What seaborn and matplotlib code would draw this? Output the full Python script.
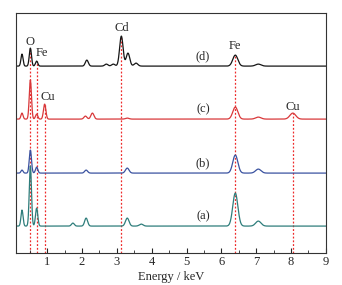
import matplotlib
matplotlib.use("Agg")
import matplotlib.pyplot as plt
from matplotlib.ticker import MultipleLocator
import seaborn as sns
import pandas as pd
import numpy as np

# spectra: peak positions (keV) and heights
samples = ["(a)", "(b)", "(c)", "(d)"]
offsets = [27, 80, 134, 187]
colors = ["#2e7d7b", "#3a52a0", "#d9383a", "#151515"]

peaks_a = [(0.28, 16), (0.52, 60), (0.70, 18), (1.74, 3), (2.12, 8), (3.30, 8), (3.70, 2), (6.40, 33), (7.06, 5)]
peaks_b = [(0.28, 3), (0.52, 23), (0.70, 6), (2.12, 3), (3.30, 5), (6.40, 18), (7.06, 4)]
peaks_c = [(0.28, 6), (0.52, 39), (0.70, 5), (0.93, 15), (2.10, 3), (2.30, 6), (3.30, 1), (6.40, 12), (7.06, 2), (8.05, 6)]
peaks_d = [(0.28, 12), (0.52, 18), (0.70, 5), (2.14, 6), (2.70, 2), (2.90, 2), (3.13, 30), (3.32, 13), (3.55, 3), (6.40, 11), (7.06, 2)]
all_peaks = [peaks_a, peaks_b, peaks_c, peaks_d]

# marked element lines: energy, label, sample index the line starts from
lines_e = [0.52, 0.70, 0.93, 3.13, 6.40, 8.05]
lines_from = [3, 3, 2, 3, 3, 2]
labels = ["O", "Fe", "Cu", "Cd", "Fe", "Cu"]
label_xy = [(0.52, 211), (0.86, 200), (1.02, 156), (3.13, 225), (6.40, 207), (8.05, 146)]

energy = np.linspace(0.11, 9.0, 1800)


def spectrum(peaks):
    y = np.zeros_like(energy)
    for e, h in peaks:
        s = 0.028 + 0.007 * e
        y += h * np.exp(-0.5 * ((energy - e) / s) ** 2)
    return y


rows = []
for name, off, pk in zip(samples, offsets, all_peaks):
    rows.append(pd.DataFrame({"energy": energy, "counts": off + spectrum(pk), "sample": name}))
df = pd.concat(rows, ignore_index=True)

sns.set_style("ticks")
plt.rcParams["font.family"] = ["Liberation Serif", "DejaVu Serif"]

fig = plt.figure(figsize=(3.42, 2.85), dpi=100)
ax = fig.add_axes([0.047, 0.112, 0.906, 0.842])

sns.lineplot(data=df, x="energy", y="counts", hue="sample", palette=dict(zip(samples, colors)),
             linewidth=0.9, legend=False, ax=ax)

for e, src in zip(lines_e, lines_from):
    top = offsets[src] + spectrum(all_peaks[src])[np.argmin(abs(energy - e))]
    ax.vlines(e, 0, top, colors="#ee2a2a", linestyles=(0, (1.5, 1.5)), linewidth=0.9, zorder=0)

for t, (x, y) in zip(labels, label_xy):
    ax.text(x, y, t, ha="center", va="center", fontsize=9)

for name, off in zip(samples, offsets):
    ax.text(5.47, off + 10, name, ha="center", va="center", fontsize=9)

ax.set_xlim(0.11, 9)
ax.set_ylim(0, 240)
ax.xaxis.set_major_locator(MultipleLocator(1))
ax.xaxis.set_minor_locator(MultipleLocator(0.5))
ax.tick_params(axis="x", which="both", direction="in", labelsize=9, pad=2)
ax.tick_params(axis="x", which="major", length=3.5)
ax.tick_params(axis="x", which="minor", length=2)
ax.set_yticks([])
ax.set_xlabel("Energy / keV", fontsize=9, labelpad=2)
ax.set_ylabel("")
for sp in ax.spines.values():
    sp.set_visible(True)
    sp.set_linewidth(0.8)
    sp.set_color("#333333")

fig.savefig("out.png", dpi=100)
